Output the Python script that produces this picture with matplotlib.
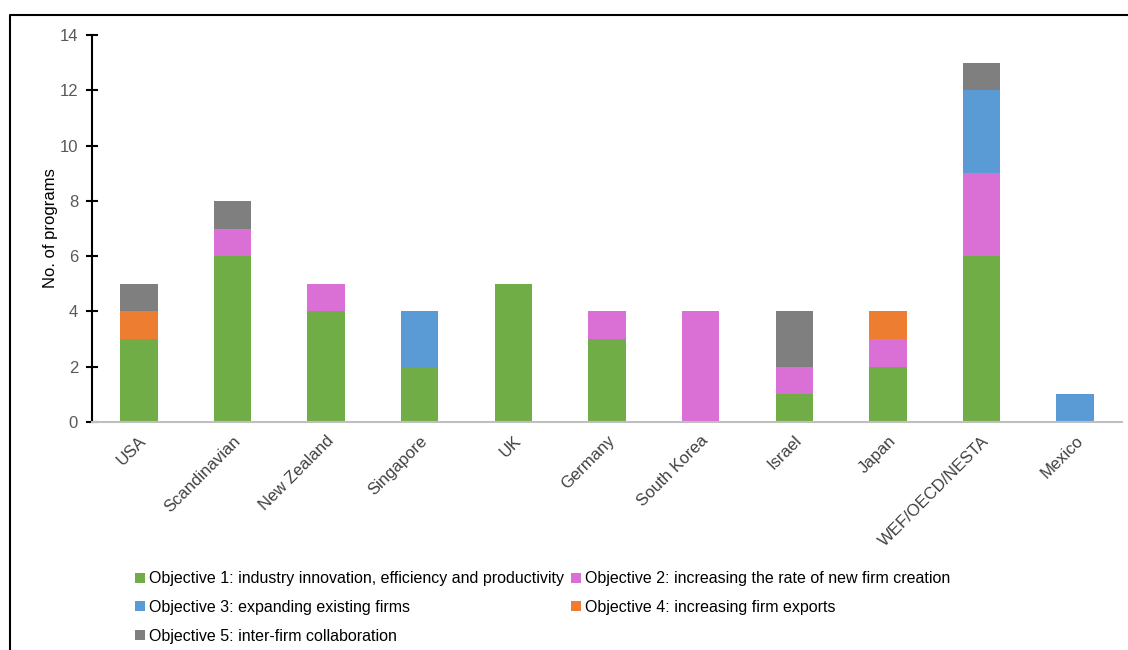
import matplotlib.pyplot as plt
import numpy as np
from matplotlib.lines import Line2D

plt.rcParams['font.family'] = ['Liberation Sans', 'DejaVu Sans']

countries = ['USA', 'Scandinavian', 'New Zealand', 'Singapore', 'UK', 'Germany',
             'South Korea', 'Israel', 'Japan', 'WEF/OECD/NESTA', 'Mexico']
obj1 = [3, 6, 4, 2, 5, 3, 0, 1, 2, 6, 0]
obj2 = [0, 1, 1, 0, 0, 1, 4, 1, 1, 3, 0]
obj3 = [0, 0, 0, 2, 0, 0, 0, 0, 0, 3, 1]
obj4 = [1, 0, 0, 0, 0, 0, 0, 0, 1, 0, 0]
obj5 = [1, 1, 0, 0, 0, 0, 0, 2, 0, 1, 0]

labels = ['Objective 1: industry innovation, efficiency and productivity',
          'Objective 2: increasing the rate of new firm creation',
          'Objective 3: expanding existing firms',
          'Objective 4: increasing firm exports',
          'Objective 5: inter-firm collaboration']
colors = ['#70AD47', '#DA70D6', '#5B9BD5', '#ED7D31', '#7F7F7F']

fig = plt.figure(figsize=(11.28, 6.5), dpi=100)
ax = fig.add_axes([92 / 1128, 1 - 422 / 650, (1122 - 92) / 1128, (422 - 35) / 650])

x = np.arange(len(countries))
bottom = np.zeros(len(countries))
for vals, lab, col in zip([obj1, obj2, obj3, obj4, obj5], labels, colors):
    ax.bar(x, vals, width=0.4, bottom=bottom, color=col, label=lab, zorder=2)
    bottom += np.array(vals)

ax.set_xlim(-0.5, len(countries) - 0.5)
ax.set_ylim(0, 14)
ax.set_yticks(range(0, 15, 2))
ax.set_xticks(x)
ax.set_xticklabels(countries, rotation=45, ha='right', rotation_mode='anchor',
                   fontsize=12, color='#404040')
ax.tick_params(axis='x', length=0, pad=8)
ax.tick_params(axis='y', direction='inout', length=8, width=1.5,
               labelsize=12, labelcolor='#595959', pad=6)
ax.set_ylabel('No. of programs', fontsize=12, labelpad=1)

for s in ['top', 'right']:
    ax.spines[s].set_visible(False)
ax.spines['left'].set_linewidth(1.5)
ax.spines['bottom'].set_color('#BFBFBF')
ax.spines['bottom'].set_linewidth(1.5)

# legend filled row by row, as in the original
h, l = ax.get_legend_handles_labels()
order = [0, 2, 4, 1, 3]
fig.legend([h[i] for i in order], [l[i] for i in order],
           loc='upper left', bbox_to_anchor=(129 / 1128, 1 - 565 / 650), ncol=2,
           frameon=False, fontsize=11.5, handlelength=0.6, handleheight=0.6,
           handletextpad=0.25, columnspacing=0.45, labelspacing=0.85,
           borderaxespad=0)

# outer frame (left and top edges)
fx = 10 / 1128
fy = 1 - 15 / 650
fig.add_artist(Line2D([fx, fx, 1], [0, fy, fy], transform=fig.transFigure,
                      color='black', linewidth=1.5))

fig.savefig('out.png', dpi=100)
